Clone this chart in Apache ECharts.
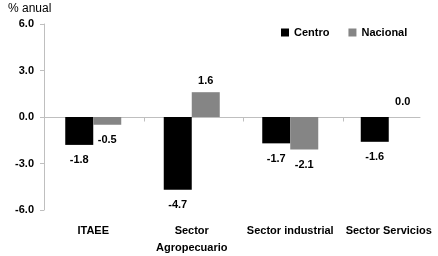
<!DOCTYPE html>
<html><head><meta charset="utf-8">
<script src="https://cdn.jsdelivr.net/npm/echarts@6/dist/echarts.min.js"></script>
<style>html,body{margin:0;padding:0;background:#fff}#c{width:438px;height:256px}</style>
</head><body><div id="c"></div>
<script>
const categories = ['ITAEE', 'Sector\nAgropecuario', 'Sector industrial', 'Sector Servicios'];
const centro = [-1.8, -4.7, -1.7, -1.6];
const nacional = [-0.5, 1.6, -2.1, 0.0];
const seriesNames = ['Centro', 'Nacional'];
const yTicks = [-6, -3, 0, 3, 6];

const FONT = 'Arial, "Liberation Sans", sans-serif';
function mk(vals) {
  return vals.map(v => ({
    value: v,
    label: v > 0 ? {position: 'top', distance: 6} : (v === 0 ? {position: 'top', distance: 10} : {position: 'bottom', distance: 10})
  }));
}
const lbl = {show: true, fontFamily: FONT, fontWeight: 'bold', fontSize: 11, color: '#000', formatter: p => p.value.toFixed(1)};

const chart = echarts.init(document.getElementById('c'), null, {renderer: 'canvas'});
chart.setOption({
  animation: false,
  title: {text: '% anual', left: 8, top: 3, padding: 0, textStyle: {fontFamily: FONT, fontSize: 12, fontWeight: 'normal', color: '#000'}},
  legend: {
    data: seriesNames, left: 281, top: 27, padding: 0, itemWidth: 8, itemHeight: 8, itemGap: 19, icon: 'rect',
    textStyle: {fontFamily: FONT, fontWeight: 'bold', fontSize: 11, color: '#000'}
  },
  grid: [
    {left: 44, top: 24, height: 187, width: 399},
    {left: 44, top: 24, height: 187, width: 376}
  ],
  xAxis: [
    {type: 'category', gridIndex: 0, data: categories, axisLine: {show: false}, axisTick: {show: false},
     axisLabel: {margin: 12, interval: 0, lineHeight: 17, fontFamily: FONT, fontWeight: 'bold', fontSize: 11, color: '#000'}},
    {type: 'value', gridIndex: 1, min: 0, max: 376 / 99.75,
     axisLine: {show: true, onZero: true, lineStyle: {color: '#bfbfbf', width: 1}},
     axisTick: {show: true, length: 4, customValues: [1, 2, 3], lineStyle: {color: '#bfbfbf'}},
     axisLabel: {show: false}, splitLine: {show: false}}
  ],
  yAxis: [
    {type: 'value', gridIndex: 0, min: yTicks[0], max: yTicks[yTicks.length - 1], interval: 3,
     axisLine: {show: true, lineStyle: {color: '#bfbfbf'}},
     axisTick: {show: true, length: 4, lineStyle: {color: '#bfbfbf'}},
     splitLine: {show: false},
     axisLabel: {margin: 10, fontFamily: FONT, fontWeight: 'bold', fontSize: 11, color: '#000', formatter: v => v.toFixed(1)}},
    {type: 'value', gridIndex: 1, min: -6, max: 6, show: false}
  ],
  series: [
    {name: seriesNames[0], type: 'bar', xAxisIndex: 0, yAxisIndex: 0, data: mk(centro), barWidth: 28, barGap: '0%',
     itemStyle: {color: '#000000'}, label: lbl},
    {name: seriesNames[1], type: 'bar', xAxisIndex: 0, yAxisIndex: 0, data: mk(nacional), barWidth: 28, barGap: '0%',
     itemStyle: {color: '#858585'}, label: lbl}
  ]
});
</script></body></html>
